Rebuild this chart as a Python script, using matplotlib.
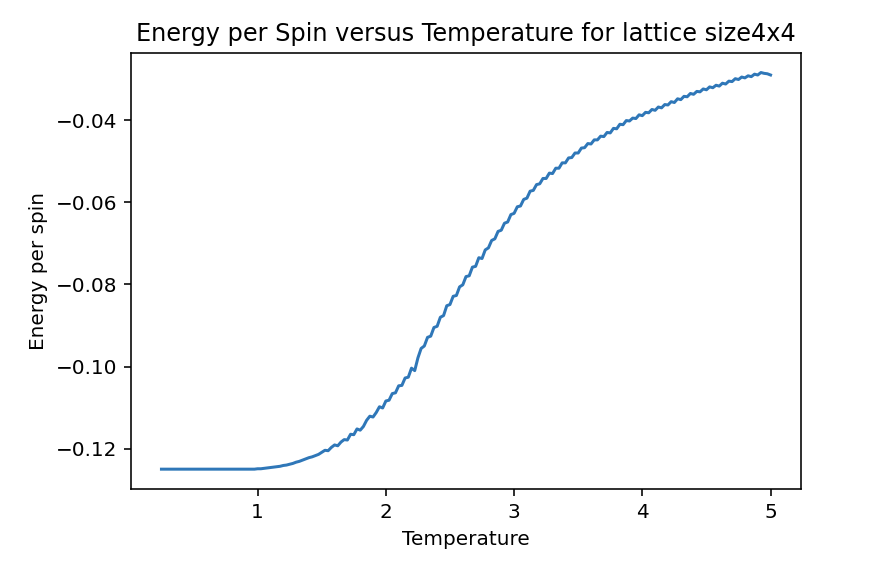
import numpy as np
import matplotlib
matplotlib.use('Agg')
import matplotlib.pyplot as plt

# temperature grid of the 4x4 lattice simulation (step 0.025)
temps = np.linspace(0.25, 5.0, 191)

# energy per spin
e_flat = [
    -0.1250, -0.1250, -0.1250, -0.1250, -0.1250, -0.1250, -0.1250, -0.1250, -0.1250, -0.1250,
    -0.1250, -0.1250, -0.1250, -0.1250, -0.1250, -0.1250, -0.1250, -0.1250, -0.1250, -0.1250,
    -0.1250, -0.1250, -0.1250, -0.1250, -0.1250, -0.1250, -0.1250, -0.1250, -0.1250, -0.1250]
e_onset = [
    -0.1249, -0.1249, -0.1248, -0.1247, -0.1246, -0.1245, -0.1244, -0.1243, -0.1241, -0.1240,
    -0.1238, -0.1236, -0.1233, -0.1231, -0.1228, -0.1225, -0.1222, -0.1220, -0.1217, -0.1214]
e_trans = [
    -0.1209, -0.1204, -0.1205, -0.1197, -0.1191, -0.1193, -0.1184, -0.1178, -0.1179, -0.1165,
    -0.1166, -0.1152, -0.1155, -0.1146, -0.1131, -0.1121, -0.1123, -0.1112, -0.1098, -0.1101,
    -0.1084, -0.1082, -0.1066, -0.1064, -0.1047, -0.1046, -0.1028, -0.1026, -0.1004, -0.1010,
    -0.0979, -0.0956, -0.0950, -0.0929, -0.0926, -0.0905, -0.0902, -0.0880, -0.0876, -0.0852,
    -0.0849, -0.0829, -0.0827, -0.0806, -0.0801, -0.0781, -0.0779, -0.0758, -0.0756, -0.0735,
    -0.0737, -0.0716, -0.0711, -0.0693, -0.0689, -0.0671, -0.0668, -0.0651, -0.0648, -0.0630]
e_high = [
    -0.0627, -0.0611, -0.0609, -0.0593, -0.0590, -0.0573, -0.0571, -0.0557, -0.0555, -0.0542,
    -0.0542, -0.0529, -0.0530, -0.0517, -0.0517, -0.0504, -0.0504, -0.0492, -0.0491, -0.0480,
    -0.0480, -0.0468, -0.0467, -0.0457, -0.0458, -0.0448, -0.0448, -0.0439, -0.0440, -0.0430,
    -0.0431, -0.0420, -0.0421, -0.0410, -0.0411, -0.0401, -0.0402, -0.0395, -0.0396, -0.0387,
    -0.0389, -0.0381, -0.0382, -0.0374, -0.0376, -0.0368, -0.0370, -0.0362, -0.0363, -0.0355,
    -0.0357, -0.0348, -0.0350, -0.0342, -0.0343, -0.0335, -0.0337, -0.0330, -0.0331, -0.0324,
    -0.0326, -0.0319, -0.0321, -0.0315, -0.0317, -0.0310, -0.0312, -0.0305, -0.0306, -0.0299,
    -0.0301, -0.0295, -0.0297, -0.0292, -0.0294, -0.0288, -0.0290, -0.0284, -0.0286, -0.0287,
    -0.0290]

energy = np.array(e_flat + e_onset + e_trans + e_high)

#________ plot ________
fig = plt.figure(figsize=(886/144, 570/144), dpi=144)
ax = fig.add_axes([131/886, 81/570, 670/886, 436.3/570])

ax.plot(temps, energy, color='#2f77b8')
ax.set_title('Energy per Spin versus Temperature for lattice size4x4')
ax.set_xlabel('Temperature')
ax.set_ylabel('Energy per spin')

fig.savefig('out.png', dpi=144)
